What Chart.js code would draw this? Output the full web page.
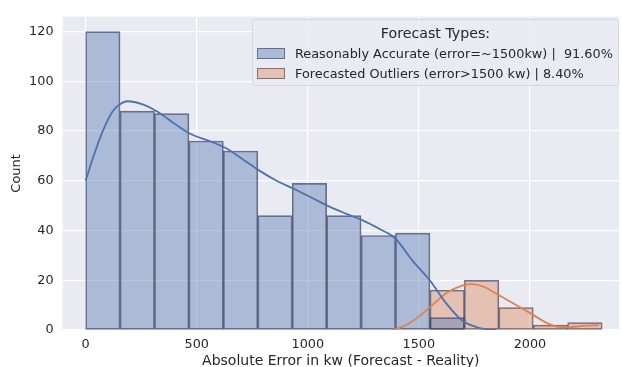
<!DOCTYPE html>
<html>
<head>
<meta charset="utf-8">
<script src="https://cdn.jsdelivr.net/npm/chart.js@4.4.0/dist/chart.umd.min.js"></script>
<style>
  body { margin: 0; background: #fff; }
  .wrap { position: relative; width: 622px; height: 367px; }
  .legend {
    position: absolute; left: 252px; top: 19px; width: 365px; height: 65px;
    background: rgba(234, 234, 242, 0.8); border: 1px solid #d6d6dc; border-radius: 3px;
    font-family: "DejaVu Sans", sans-serif; color: #262626; font-size: 12.85px;
  }
  .legend .title { text-align: center; margin-top: 5px; font-size: 14.2px; line-height: 17px; }
  .legend .row { display: flex; align-items: center; margin-left: 4px; margin-top: 3px; line-height: 17px; }
  .legend .patch { width: 26px; height: 9px; margin-right: 10px; border: 1px solid rgba(60, 60, 80, 0.6); }
</style>
</head>
<body>
<div class="wrap">
  <canvas id="myChart" width="622" height="367"></canvas>
  <div class="legend">
    <div class="title">Forecast Types:</div>
    <div class="row"><span class="patch" style="background:#abbad8"></span>Reasonably Accurate (error=~1500kw) |&nbsp; 91.60%</div>
    <div class="row"><span class="patch" style="background:#e5c1b2"></span>Forecasted Outliers (error&gt;1500 kw) | 8.40%</div>
  </div>
</div>
<script>
// Гистограмма: начала корзин и количества
const binWidth = 155;
const accurateBins = [0, 155, 310, 465, 620, 775, 930, 1085, 1240, 1395, 1550];
const accurateCounts = [120, 88, 87, 76, 72, 46, 59, 46, 38, 39, 5];
const outlierBins = [1550, 1705, 1860, 2015, 2170];
const outlierCounts = [16, 20, 9, 2, 3];

// KDE кривые
const accurateKdeX = [0, 32, 77, 122, 153, 189, 257, 320, 400, 468, 558, 635, 710, 784, 860, 932, 1022, 1100, 1180, 1250, 1324, 1392, 1473, 1545, 1626, 1698, 1775, 1851];
const accurateKdeY = [60, 69, 80, 88, 90.7, 92, 90.7, 88, 83, 79, 76, 73, 68.5, 64, 60, 57, 53, 49.5, 46.5, 44, 40.6, 37, 27.7, 20.5, 10.4, 3.6, 0.8, 0];
const outlierKdeX = [1383, 1430, 1473, 1545, 1626, 1698, 1740, 1790, 1851, 1930, 2009, 2077, 2135, 2180, 2225, 2311];
const outlierKdeY = [0, 1.5, 3.6, 8.8, 15, 18, 18.5, 17.5, 14.5, 10.5, 6.4, 2.8, 1.2, 1.2, 1.6, 2];

// Тики осей
const xTicks = [0, 500, 1000, 1500, 2000];
const yTicks = [0, 20, 40, 60, 80, 100, 120];

const toPoints = (xs, ys) => xs.map((x, i) => ({ x: x, y: ys[i] }));
const toBars = (bins, counts) => bins.map((b, i) => ({ x: b + binWidth / 2, y: counts[i] }));

const textColor = "#262626";
const font = { family: "DejaVu Sans", size: 12.8 };

// фон области графика
const plotBg = {
  id: "plotBg",
  beforeDraw(chart) {
    const { ctx, chartArea: a } = chart;
    ctx.save();
    ctx.fillStyle = "#eaeaf2";
    ctx.fillRect(a.left, a.top, a.right - a.left, a.bottom - a.top);
    ctx.restore();
  },
};

const data = {
  datasets: [
    {
      type: "line",
      data: toPoints(accurateKdeX, accurateKdeY),
      borderColor: "#4c72b0",
      borderWidth: 1.8,
      pointRadius: 0,
      cubicInterpolationMode: "monotone",
      order: 0,
    },
    {
      type: "line",
      data: toPoints(outlierKdeX, outlierKdeY),
      borderColor: "#dd8452",
      borderWidth: 1.8,
      pointRadius: 0,
      cubicInterpolationMode: "monotone",
      order: 0,
    },
    {
      type: "bar",
      data: toBars(accurateBins, accurateCounts),
      backgroundColor: "rgba(76, 114, 176, 0.4)",
      borderColor: "rgba(45, 45, 70, 0.65)",
      borderWidth: 1,
      borderSkipped: false,
      barPercentage: 1,
      categoryPercentage: 1,
      grouped: false,
      order: 1,
    },
    {
      type: "bar",
      data: toBars(outlierBins, outlierCounts),
      backgroundColor: "rgba(221, 132, 82, 0.4)",
      borderColor: "rgba(45, 45, 70, 0.65)",
      borderWidth: 1,
      borderSkipped: false,
      barPercentage: 1,
      categoryPercentage: 1,
      grouped: false,
      order: 2,
    },
  ],
};

const config = {
  type: "bar",
  data,
  plugins: [plotBg],
  options: {
    responsive: false,
    animation: false,
    layout: { padding: { top: 13, right: 3, left: 9, bottom: 0 } },
    scales: {
      x: {
        type: "linear",
        min: -104,
        max: 2401,
        offset: false,
        afterBuildTicks: (s) => { s.ticks = xTicks.map((v) => ({ value: v })); },
        grid: { color: "#ffffff", lineWidth: 1.2, offset: false, drawTicks: false },
        border: { display: false },
        ticks: { color: textColor, font, padding: 7, callback: (v) => String(v) },
        title: { display: true, text: "Absolute Error in kw (Forecast - Reality)", color: textColor, font: { family: "DejaVu Sans", size: 14 }, padding: { top: -6.8, bottom: -2.4 } },
      },
      y: {
        min: 0,
        max: 126,
        afterBuildTicks: (s) => { s.ticks = yTicks.map((v) => ({ value: v })); },
        grid: { color: "#ffffff", lineWidth: 1.2, drawTicks: false },
        border: { display: false },
        ticks: { color: textColor, font, padding: 9 },
        title: { display: true, text: "Count", color: textColor, font: { family: "DejaVu Sans", size: 13 }, padding: { top: 0, bottom: -4.5 } },
      },
    },
    plugins: {
      legend: { display: false },
      tooltip: { enabled: false },
    },
  },
};

const myChart = new Chart(document.getElementById("myChart"), config);
</script>
</body>
</html>
